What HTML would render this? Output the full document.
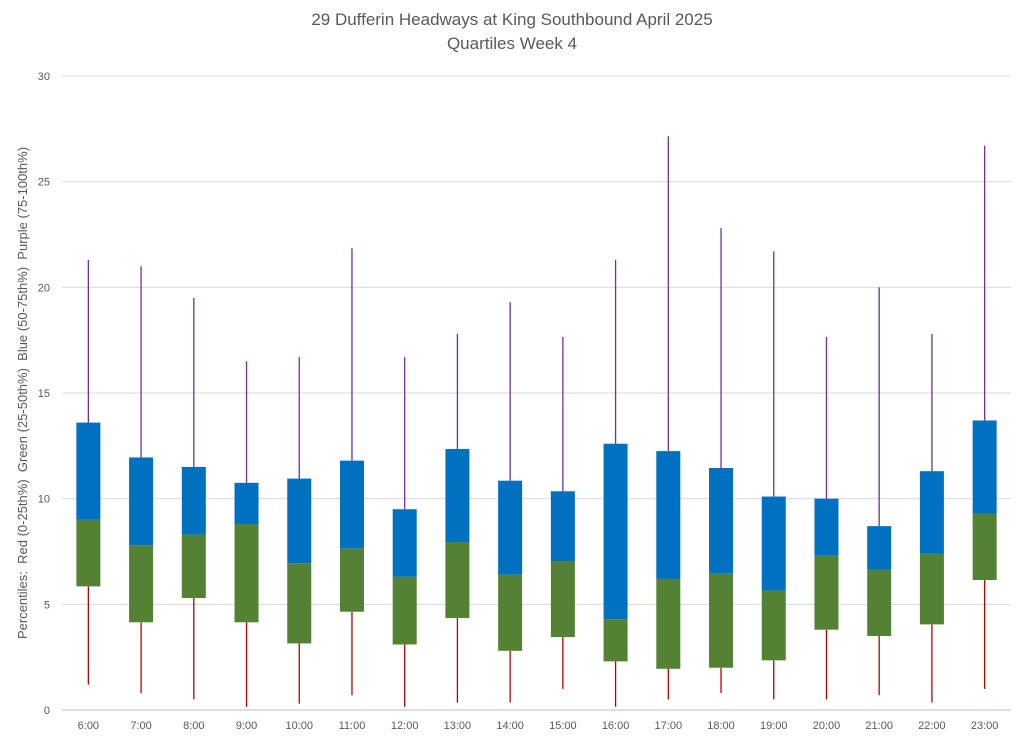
<!DOCTYPE html>
<html><head><meta charset="utf-8"><style>
body{margin:0;background:#fff;font-family:"Liberation Sans",sans-serif}
</style></head><body>
<svg id="chart" width="1024" height="740" xmlns="http://www.w3.org/2000/svg">
<rect width="1024" height="740" fill="#fff"/>
<text x="512" y="25" text-anchor="middle" font-size="17" fill="#595959">29 Dufferin Headways at King Southbound April 2025</text>
<text x="512" y="49" text-anchor="middle" font-size="17" fill="#595959">Quartiles Week 4</text>
<text transform="translate(27,393) rotate(-90)" text-anchor="middle" font-size="13" fill="#595959" style="white-space:pre">Percentiles:  Red (0-25th%)  Green (25-50th%)  Blue (50-75th%)  Purple (75-100th%)</text>
<g id="grid"></g><g id="marks"></g><g id="xlabels"></g>
</svg>
<script>
const categories=["6:00","7:00","8:00","9:00","10:00","11:00","12:00","13:00","14:00","15:00","16:00","17:00","18:00","19:00","20:00","21:00","22:00","23:00"];
const minVals=[1.2,0.8,0.5,0.15,0.3,0.7,0.15,0.35,0.35,1.0,0.15,0.5,0.8,0.5,0.5,0.7,0.35,1.0];
const q1Vals=[5.85,4.15,5.3,4.15,3.15,4.65,3.1,4.35,2.8,3.45,2.3,1.95,2.0,2.35,3.8,3.5,4.05,6.15];
const medVals=[9.0,7.8,8.3,8.8,6.95,7.65,6.3,7.95,6.4,7.05,4.3,6.2,6.45,5.65,7.3,6.65,7.4,9.3];
const q3Vals=[13.6,11.95,11.5,10.75,10.95,11.8,9.5,12.35,10.85,10.35,12.6,12.25,11.45,10.1,10.0,8.7,11.3,13.7];
const maxVals=[21.3,21.0,19.5,16.5,16.7,21.85,16.7,17.8,19.3,17.65,21.3,27.15,22.8,21.7,17.65,20.0,17.8,26.7];
const yTicks=[0,5,10,15,20,25,30];
const NS="http://www.w3.org/2000/svg";
const x0=62,x1=1011,yb=710,yt=76,ymax=30;
const y=v=>yb-(v/ymax)*(yb-yt);
const step=(x1-x0)/categories.length;
const xc=i=>x0+step*(i+0.5);
function mk(tag,attrs,parent){const e=document.createElementNS(NS,tag);for(const k in attrs)e.setAttribute(k,attrs[k]);parent.appendChild(e);return e;}
const grid=document.getElementById('grid'),marks=document.getElementById('marks'),xl=document.getElementById('xlabels');
yTicks.forEach(t=>{
  const l=mk('line',{x1:x0,x2:x1,y1:y(t),y2:y(t),stroke:t===0?'#bfbfbf':'#d9d9d9','stroke-width':1},grid);
  
  
  const tx=mk('text',{x:50,y:y(t)+4,'text-anchor':'end','font-size':11,fill:'#595959'},grid);
  tx.textContent=t;
  
  
});
const bw=24;
categories.forEach((c,i)=>{
  const cx=xc(i);
  const lo=mk('line',{x1:cx,x2:cx,y1:y(minVals[i]),y2:y(q1Vals[i]),stroke:'#c00000','stroke-width':1.3},marks);
  
  
  const hi=mk('line',{x1:cx,x2:cx,y1:y(q3Vals[i]),y2:y(maxVals[i]),stroke:'#7030a0','stroke-width':1.3},marks);
  
  
  const g=mk('rect',{x:cx-bw/2,y:y(medVals[i]),width:bw,height:y(q1Vals[i])-y(medVals[i]),fill:'#548235'},marks);
  
  
  const b=mk('rect',{x:cx-bw/2,y:y(q3Vals[i]),width:bw,height:y(medVals[i])-y(q3Vals[i]),fill:'#0070c0'},marks);
  
  
  const t=mk('text',{x:cx,y:729,'text-anchor':'middle','font-size':11,fill:'#595959'},xl);
  t.textContent=c;
  
  
});
</script>
</body></html>
